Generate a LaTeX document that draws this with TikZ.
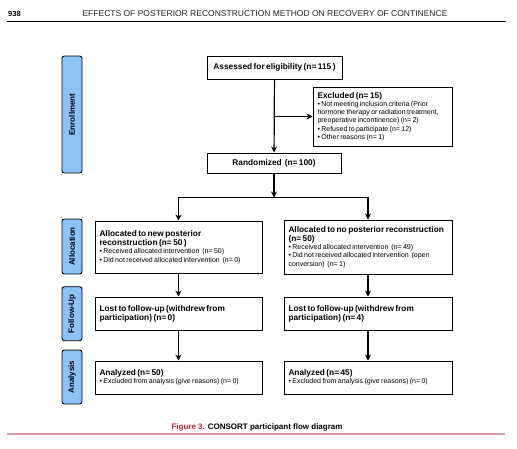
\documentclass[tikz,border=0pt]{standalone}
\usepackage{fontspec}
\setmainfont{Liberation Sans}
\usepackage{tikz}
\usetikzlibrary{calc,arrows.meta}

\definecolor{phaseblue}{RGB}{142,194,247}
\definecolor{figred}{RGB}{196,28,58}
\definecolor{rulepink}{RGB}{212,150,160}

\newcommand{\boxhead}{\fontsize{8.3}{9}\bfseries\selectfont\spaceskip=0.18em plus 0.05em\relax\hyphenpenalty=10000\relax}
\newcommand{\boxnote}{\fontsize{7}{8.3}\mdseries\selectfont\spaceskip=0.2em plus 0.05em\relax\hyphenpenalty=10000\relax}

\tikzset{
    cbox/.style={draw=black, line width=1pt, align=left, inner xsep=4.5pt, inner ysep=0pt},
    phase/.style={draw=black, line width=0.9pt, fill=phaseblue, rounded corners=2.5pt, rotate=90,
        minimum height=20pt, inner sep=0pt, font=\fontsize{8}{9}\bfseries\selectfont},
    flow/.style={-{Stealth[length=6pt,width=6pt]}, line width=1.2pt}
}

\begin{document}
\begin{tikzpicture}[x=1pt, y=-1pt]
    \useasboundingbox (0,0) rectangle (517,448);

    % page header
    \node[anchor=west, inner sep=0pt, font=\fontsize{7.5}{8}\bfseries\selectfont] (pagenum) at (8,14) {938};
    \node[inner sep=0pt, font=\fontsize{8.5}{9}\selectfont, text=black!85] (title) at (265,14) {EFFECTS OF POSTERIOR RECONSTRUCTION METHOD ON RECOVERY OF CONTINENCE};
    \draw[line width=0.8pt] (7,21) -- (506,21);

    % phases
    \node[phase, minimum width=117pt] (enrol) at (72,114.5) {Enrollment};
    \node[phase, minimum width=55pt] (alloc) at (72,246.5) {Allocation};
    \node[phase, minimum width=54pt] (follow) at (72,313.7) {Follow-Up};
    \node[phase, minimum width=54pt] (analys) at (72,377) {Analysis};

    % enrollment
    \node[cbox, align=center, minimum width=135pt, minimum height=23pt, font=\boxhead] (assess) at (274.5,67.5) {Assessed for eligibility (n= 115 )};

    \node[cbox, text width=130pt, minimum height=59pt] (excl) at (382.5,116.5) {\boxhead Excluded (n= 15)\par
        \boxnote \textbullet\ Not meeting inclusion criteria (Prior\\
        hormone therapy or radiation treatment,\\
        preoperative incontinence) (n= 2)\\
        \textbullet\ Refused to participate (n= 12)\\
        \textbullet\ Other reasons (n= 1)\par};

    \node[cbox, align=center, minimum width=134pt, minimum height=20pt, font=\boxhead] (rand) at ($(assess) + (-0.5,95.5)$) {Randomized\ \ (n= 100)};

    % allocation
    \node[cbox, text width=158pt, minimum height=52pt] (allocL) at (178.5,247) {\boxhead Allocated to new posterior\\
        reconstruction (n= 50 )\par
        \boxnote \textbullet\ Received allocated intervention\ \ (n= 50)\\
        \textbullet\ Did not received allocated intervention\ \ (n= 0)\par};

    \node[cbox, text width=159pt, minimum height=54pt] (allocR) at (368,247) {\boxhead Allocated to no posterior reconstruction\\
        (n= 50)\par
        \boxnote \textbullet\ Received allocated intervention\ \ (n= 49)\\
        \textbullet\ Did not received allocated intervention\ \ (open\\
        conversion)\ \ (n= 1)\par};

    % follow-up
    \node[cbox, text width=158pt, minimum height=33pt] (followL) at (178.5,313.5) {\boxhead Lost to follow-up (withdrew from\\
        participation) (n= 0)\par};

    \node[cbox, text width=159pt, minimum height=33pt] (followR) at (368,313.5) {\boxhead Lost to follow-up (withdrew from\\
        participation) (n= 4)\par};

    % analysis
    \node[cbox, text width=158pt, minimum height=33pt] (analysedL) at (178.5,377.5) {\boxhead Analyzed (n= 50)\par
        \boxnote \textbullet\ Excluded from analysis (give reasons) (n= 0)\par};

    \node[cbox, text width=159pt, minimum height=33pt] (analysedR) at (368,377.5) {\boxhead Analyzed (n= 45)\par
        \boxnote \textbullet\ Excluded from analysis (give reasons) (n= 0)\par};

    \coordinate (split) at ($(rand.south) + (0,24)$);

    \draw[flow] (assess) -- (rand);
    \draw[flow] (assess.south |- excl.west) -- (excl.west);
    \draw[flow] (rand) -- (split);
    \draw[flow] (split) -| (allocL.north);
    \draw[flow] (split) -| (allocR.north);

    \draw[flow] (allocL) -- (followL);
    \draw[flow] (allocR) -- (followR);
    \draw[flow] (followL) -- (analysedL);
    \draw[flow] (followR) -- (analysedR);

    % caption
    \node[inner sep=0pt, font=\fontsize{8}{9}\bfseries\selectfont] (caption) at (257,427) {\textcolor{figred}{Figure 3.} CONSORT participant flow diagram};
    \draw[rulepink, line width=1.3pt] (7,434) -- (505,434);
\end{tikzpicture}
\end{document}
